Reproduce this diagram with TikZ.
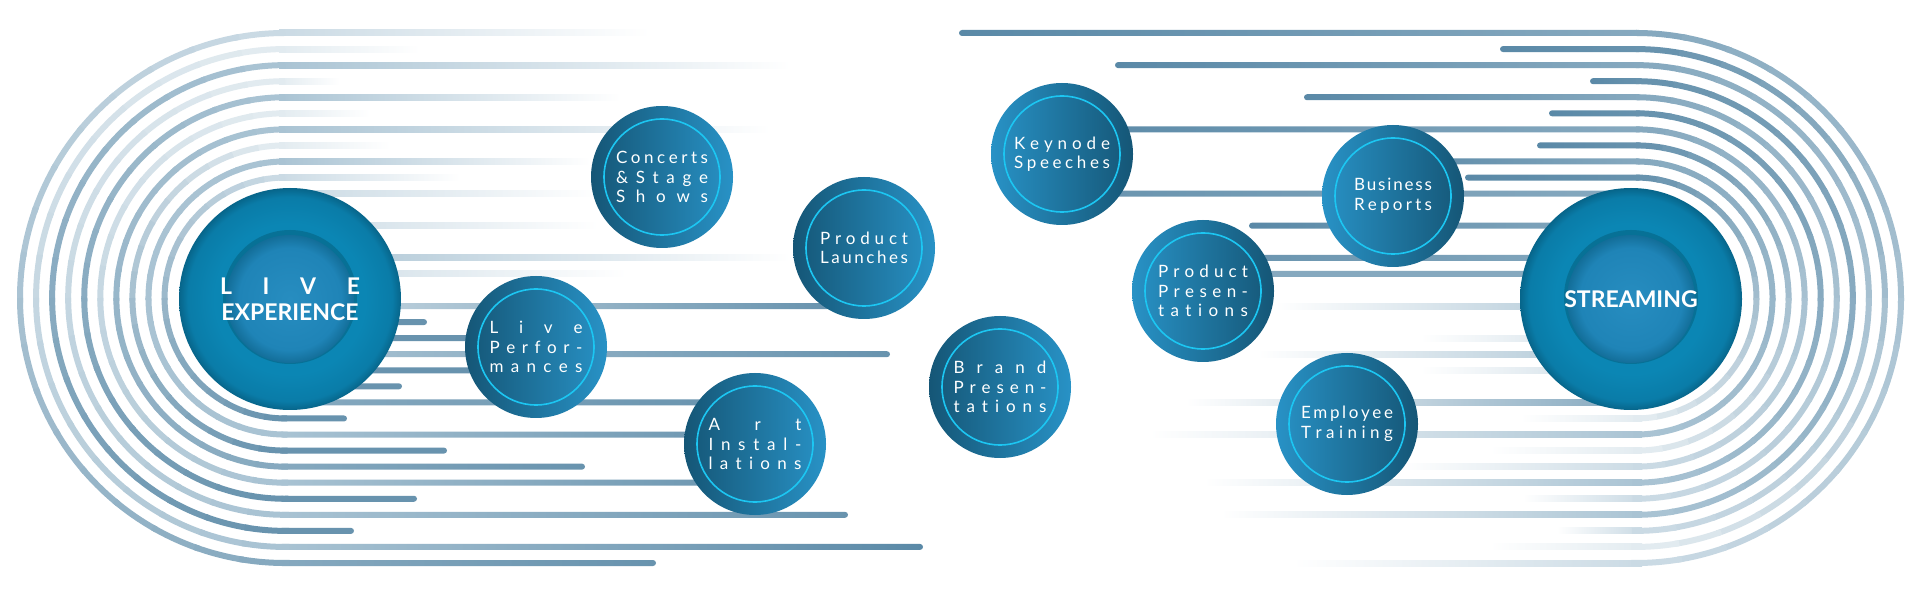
\documentclass[tikz,border=0pt]{standalone}
\usepackage{fontspec}
\setmainfont{Lato}
\definecolor{cFaint}{HTML}{E2EBF0}
\definecolor{cPale}{HTML}{CADAE4}
\definecolor{cLight}{HTML}{A9C3D3}
\definecolor{cMid}{HTML}{86A9BF}
\definecolor{cDark}{HTML}{6893AE}
\definecolor{cDeep}{HTML}{5A89A7}
\definecolor{bubDark}{HTML}{155676}
\definecolor{bubMid}{HTML}{1B6789}
\definecolor{bubLight}{HTML}{2892C6}
\definecolor{ringC}{HTML}{1CC6F2}
\definecolor{bigA}{HTML}{0B86B4}
\definecolor{bigB}{HTML}{0A7CA8}
\definecolor{bigC}{HTML}{07658A}
\definecolor{coreA}{HTML}{278DC0}
\definecolor{coreB}{HTML}{1F84B7}
\definecolor{coreC}{HTML}{136E99}
\definecolor{coreShadow}{HTML}{05607F}
\pgfdeclareradialshading{bigring}{\pgfpoint{0bp}{0bp}}{color(0bp)=(bigA); color(17bp)=(bigA); color(23bp)=(bigB); color(25bp)=(bigC); color(50bp)=(bigC)}
\pgfdeclareradialshading{bigcore}{\pgfpoint{0bp}{0bp}}{color(0bp)=(coreA); color(20bp)=(coreB); color(25bp)=(coreC); color(50bp)=(coreC)}
\newcommand\spr[2]{\makebox[#1][s]{\spaceskip=0pt plus 1fil\xspaceskip=0pt plus 1fil\relax #2}}
\tikzset{
  bub/.style={circle, minimum size=142pt, inner sep=0pt, text=white, align=center,
    font=\fontsize{17}{19.5}\selectfont,
    path picture={\draw[ringC, line width=1.6pt] (path picture bounding box.center) circle (58);}},
  bubL/.style={bub, left color=bubDark, middle color=bubMid, right color=bubLight},
  bubR/.style={bub, left color=bubLight, middle color=bubMid, right color=bubDark},
  bigbub/.style={circle, minimum size=222pt, inner sep=0pt, shading=bigring, text=white, align=center,
    font=\fontsize{23}{26}\selectfont\bfseries,
    path picture={
      \fill[coreShadow, opacity=0.55] ([yshift=2pt]path picture bounding box.center) circle (67);
      \shade[shading=bigcore] (path picture bounding box.center) circle (64);}},
  ln/.style={line width=6pt}
}
\begin{document}
\begin{tikzpicture}[x=1pt,y=-1pt]
\useasboundingbox (0,0) rectangle (1920,601);
\fill[white] (0,0) rectangle (1920,601);

% ---------- left U-lines ----------
\foreach \j/\te/\be/\tc/\bc/\ec in {
  0/650/653/cPale/cMid/cDark, 1/420/920/cFaint/cLight/cDeep, 2/790/351/cLight/cDark/cDark,
  3/340/845/cFaint/cLight/cDark, 4/620/414/cLight/cDark/cDark, 5/370/755/cFaint/cLight/cDark,
  6/770/582/cLight/cMid/cDark, 7/390/444/cFaint/cDark/cDark, 8/590/755/cLight/cLight/cDark,
  9/460/344/cPale/cDark/cDark}{
  \pgfmathsetmacro\yt{33+16.06*\j}
  \pgfmathsetmacro\yb{563-16.06*\j}
  \pgfmathsetmacro\rr{265-16.06*\j}
  \shade[left color=\tc, right color=white] (279,{\yt-3}) rectangle (\te,{\yt+3});
  \shade[left color=\bc, right color=\ec, rounded corners=3pt] (279,{\yb-3}) rectangle ({\be+3},{\yb+3});
  \foreach \k in {0,...,17}{
    \pgfmathsetmacro\a{270-10*\k}
    \pgfmathtruncatemacro\p{round(100*\k/17)}
    \draw[ln, \bc!\p!\tc] ({285+\rr*cos(\a)},{298+\rr*sin(\a)}) arc[start angle=\a, end angle=\a-11, radius=\rr];
  }
}

% ---------- right U-lines ----------
\foreach \j/\ts/\bs/\tc/\bc in {
  0/962/1293/cMid/cPale, 1/1503/1490/cDark/cFaint, 2/1118/1557/cMid/cPale,
  3/1593/1221/cDark/cLight, 4/1307/1523/cMid/cPale, 5/1552/1204/cDark/cLight,
  6/1062/1400/cMid/cPale, 7/1540/1490/cDark/cFaint, 8/1393/1150/cMid/cLight,
  9/1468/1520/cDark/cFaint}{
  \pgfmathsetmacro\yt{33+16.06*\j}
  \pgfmathsetmacro\yb{563-16.06*\j}
  \pgfmathsetmacro\rr{265-16.06*\j}
  \shade[left color=cDeep, right color=\tc, rounded corners=3pt] ({\ts-3},{\yt-3}) rectangle (1642,{\yt+3});
  \shade[left color=white, right color=\bc] (\bs,{\yb-3}) rectangle (1642,{\yb+3});
  \foreach \k in {0,...,17}{
    \pgfmathsetmacro\a{270+10*\k}
    \pgfmathtruncatemacro\p{round(100*\k/17)}
    \draw[ln, \bc!\p!\tc] ({1636+\rr*cos(\a)},{298+\rr*sin(\a)}) arc[start angle=\a, end angle=\a+11, radius=\rr];
  }
}

% ---------- middle lines, left ----------
\foreach \i/\e/\c in {10/598/cPale, 12/598/cPale, 14/790/cLight, 15/627/cPale}{
  \pgfmathsetmacro\yy{33+16.06*\i}
  \shade[left color=\c, right color=white] (290,{\yy-3}) rectangle (\e,{\yy+3});
}
\foreach \i/\e/\ca/\cb in {17/830/cPale/cDark, 18/427/cDark/cDark, 19/536/cDark/cDark,
  20/890/cLight/cDark, 21/536/cDark/cDark, 22/402/cDark/cDark, 23/755/cMid/cDark}{
  \pgfmathsetmacro\yy{33+16.06*\i}
  \shade[left color=\ca, right color=\cb, rounded corners=3pt] (290,{\yy-3}) rectangle (\e,{\yy+3});
}
% ---------- middle lines, right ----------
\foreach \i/\s/\ca/\cb in {10/1062/cDark/cMid, 12/1249/cDeep/cMid, 14/1203/cDark/cMid, 15/1203/cMid/cMid}{
  \pgfmathsetmacro\yy{33+16.06*\i}
  \shade[left color=\ca, right color=\cb, rounded corners=3pt] (\s,{\yy-3}) rectangle (1631,{\yy+3});
}
\foreach \i/\s/\c in {17/1275/cLight, 19/1421/cPale, 20/1257/cLight, 21/1421/cPale, 23/1186/cMid}{
  \pgfmathsetmacro\yy{33+16.06*\i}
  \shade[left color=white, right color=\c] (\s,{\yy-3}) rectangle (1631,{\yy+3});
}

% ---------- big circles ----------
\node[bigbub] (live) at (290,299) {\spr{140pt}{L I V E}\\EXPERIENCE};
\node[bigbub] (stream) at (1631,299) {STREAMING};

% ---------- small circles ----------
\node[bubL] (concerts) at (662,177) {\spr{92pt}{C o n c e r t s}\\\spr{92pt}{\&\hfil S t a g e}\\\spr{92pt}{S h o w s}};
\node[bubL] (launches) at (864,248) {\spr{88pt}{P r o d u c t}\\\spr{88pt}{L a u n c h e s}};
\node[bubL] (liveperf) at (536,347) {\spr{93pt}{L i v e}\\\spr{93pt}{P e r f o r -}\\\spr{93pt}{m a n c e s}};
\node[bubL] (art) at (755,444) {\spr{93pt}{A r t}\\\spr{93pt}{I n s t a l -}\\\spr{93pt}{l a t i o n s}};
\node[bubR] (keynode) at (1062,154) {\spr{96pt}{K e y n o d e}\\\spr{96pt}{S p e e c h e s}};
\node[bubL] (brand) at (1000,387) {\spr{93pt}{B r a n d}\\\spr{93pt}{P r e s e n -}\\\spr{93pt}{t a t i o n s}};
\node[bubR] (prodpres) at (1203,291) {\spr{90pt}{P r o d u c t}\\\spr{90pt}{P r e s e n -}\\\spr{90pt}{t a t i o n s}};
\node[bubR] (business) at (1393,196) {\spr{78pt}{B u s i n e s s}\\\spr{78pt}{R e p o r t s}};
\node[bubR] (employee) at (1347,424) {\spr{92pt}{E m p l o y e e}\\\spr{92pt}{T r a i n i n g}};
\end{tikzpicture}
\end{document}
